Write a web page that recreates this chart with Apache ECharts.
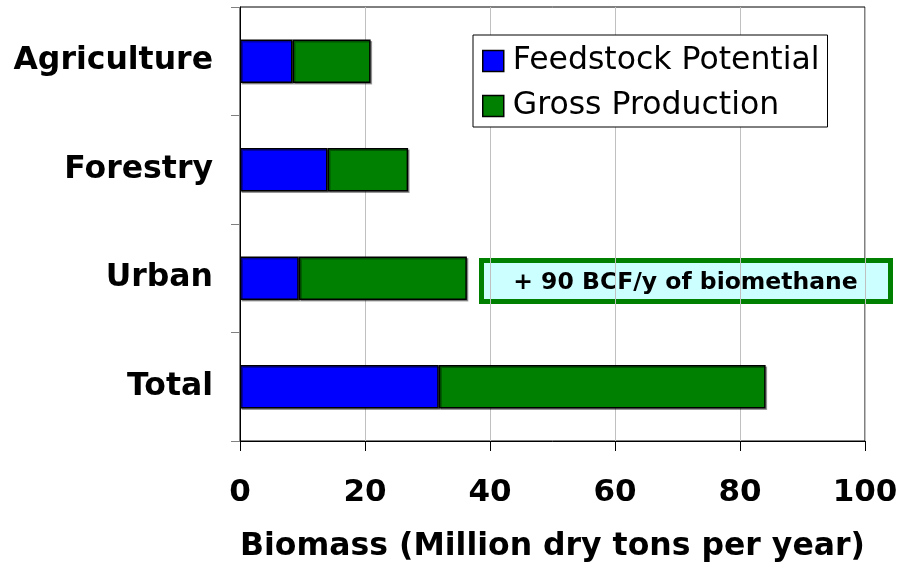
<!DOCTYPE html>
<html>
<head>
<meta charset="utf-8">
<style>
  html, body { margin: 0; padding: 0; background: #fff; }
  #chart { width: 902px; height: 564px; }
</style>
<script src="https://cdn.jsdelivr.net/npm/echarts@6/dist/echarts.min.js"></script>
</head>
<body>
<div id="chart"></div>
<script>
// categories, top to bottom
const sectors = ['Agriculture', 'Forestry', 'Urban', 'Total']
// million dry tons per year (stacked segments)
const feedstockPotential = [8.4, 14.0, 9.4, 31.8]
const grossProduction = [12.5, 12.9, 26.9, 52.3]
const xTicks = [0, 20, 40, 60, 80, 100]
const note = '+ 90 BCF/y of biomethane'

const FONT = '"DejaVu Sans", Verdana, sans-serif'

const chart = echarts.init(document.getElementById('chart'))

const barStyle = (color) => ({
  color,
  borderColor: '#000',
  borderWidth: 1.5,
  shadowColor: 'rgba(0,0,0,0.35)',
  shadowOffsetX: 1.5,
  shadowOffsetY: 1.5,
  shadowBlur: 0,
})

chart.setOption({
  animation: false,
  textStyle: { fontFamily: FONT },
  grid: {
    left: 240, right: 37, top: 7, bottom: 123,
    outerBoundsMode: 'none',
    show: true, borderColor: '#000', borderWidth: 1,
  },
  legend: {
    orient: 'vertical',
    left: 473, top: 35,
    padding: [10, 8, 5, 9],
    itemGap: 13,
    itemWidth: 21, itemHeight: 21,
    icon: 'rect',
    backgroundColor: '#fff',
    borderColor: '#000',
    borderWidth: 1,
    borderRadius: 0,
    textStyle: { fontFamily: FONT, fontSize: 31.5, color: '#000', padding: [0, 0, 0, 4] },
    itemStyle: { borderColor: '#000', borderWidth: 1.5 },
    data: ['Feedstock Potential', 'Gross Production'],
  },
  xAxis: {
    type: 'value',
    min: xTicks[0], max: xTicks[xTicks.length - 1], interval: 20,
    name: 'Biomass (Million dry tons per year)',
    nameLocation: 'middle',
    nameGap: 90,
    nameTextStyle: { fontFamily: FONT, fontSize: 31.5, fontWeight: 'bold', color: '#000' },
    axisLine: { show: true, lineStyle: { color: '#000', width: 1 } },
    axisTick: { show: true, inside: false, length: 10, lineStyle: { color: '#000' } },
    axisLabel: { margin: 36, fontFamily: FONT, fontSize: 31, fontWeight: 'bold', color: '#000' },
    splitLine: { show: true, lineStyle: { color: '#c0c0c0', width: 1 } },
  },
  yAxis: {
    type: 'category',
    inverse: true,
    data: sectors,
    axisLine: { show: true, lineStyle: { color: '#000', width: 1 } },
    axisTick: { show: true, length: 9, lineStyle: { color: '#808080' } },
    axisLabel: { margin: 27, fontFamily: FONT, fontSize: 31.5, fontWeight: 'bold', color: '#000', padding: [10, 0, 0, 0] },
    splitLine: { show: false },
  },
  series: [
    {
      name: 'Feedstock Potential',
      type: 'bar',
      stack: 'biomass',
      barCategoryGap: '60%',
      data: feedstockPotential,
      itemStyle: barStyle('#0000ff'),
    },
    {
      name: 'Gross Production',
      type: 'bar',
      stack: 'biomass',
      barCategoryGap: '60%',
      data: grossProduction,
      itemStyle: barStyle('#008000'),
    },
  ],
  graphic: [
    {
      type: 'group',
      left: 479, top: 258,
      children: [
        {
          type: 'rect',
          shape: { x: 0, y: 0, width: 409, height: 41 },
          style: { fill: '#ccffff', stroke: '#008000', lineWidth: 5 },
        },
        {
          type: 'text',
          x: 204, y: 22,
          style: {
            text: note,
            fontFamily: FONT, fontSize: 23.5, fontWeight: 'bold',
            fill: '#000', align: 'center', verticalAlign: 'middle',
          },
        },
      ],
    },
  ],
})
</script>
</body>
</html>
